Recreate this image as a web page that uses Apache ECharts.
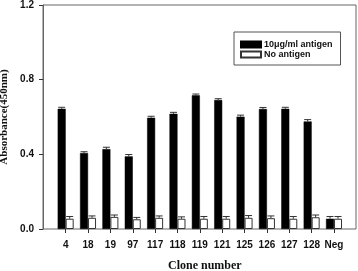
<!DOCTYPE html>
<html>
<head>
<meta charset="utf-8">
<script src="https://cdn.jsdelivr.net/npm/echarts@6/dist/echarts.min.js"></script>
<style>
  html, body { margin: 0; padding: 0; background: #fff; }
  #chart { width: 358px; height: 271px; }
</style>
</head>
<body>
<div id="chart"></div>
<script>
// clone labels on the x axis
var clones = ['4', '18', '19', '97', '117', '118', '119', '121', '125', '126', '127', '128', 'Neg'];
// absorbance with 10 ug/ml antigen
var withAntigen = [0.644, 0.407, 0.428, 0.389, 0.596, 0.617, 0.716, 0.691, 0.602, 0.643, 0.644, 0.576, 0.055];
var withAntigenErr = [0.008, 0.007, 0.01, 0.01, 0.008, 0.008, 0.007, 0.007, 0.008, 0.008, 0.008, 0.01, 0.012];
// absorbance without antigen
var noAntigen = [0.055, 0.06, 0.065, 0.052, 0.06, 0.055, 0.055, 0.055, 0.06, 0.058, 0.055, 0.063, 0.055];
var noAntigenErr = [0.012, 0.01, 0.01, 0.01, 0.01, 0.01, 0.012, 0.012, 0.012, 0.012, 0.012, 0.012, 0.012];

var myChart = echarts.init(document.getElementById('chart'));

function errSeries(vals, errs, shift) {
    var data = vals.map(function (v, i) { return [i, v, errs[i]]; });
    return {
        type: 'custom',
        xAxisIndex: 1,
        yAxisIndex: 1,
        silent: true,
        z: 5,
        data: data,
        renderItem: function (params, api) {
            var top = api.coord([api.value(0), api.value(1) + api.value(2)]);
            var base = api.coord([api.value(0), api.value(1)]);
            var x = top[0] + shift;
            return {
                type: 'group',
                children: [{
                    type: 'line',
                    shape: { x1: x, y1: base[1], x2: x, y2: top[1] },
                    style: { stroke: '#333', lineWidth: 1 }
                }, {
                    type: 'line',
                    shape: { x1: x - 3.5, y1: top[1], x2: x + 3.5, y2: top[1] },
                    style: { stroke: '#333', lineWidth: 1 }
                }]
            };
        }
    };
}

var tickFont = { fontFamily: 'Liberation Sans', fontWeight: 'bold', fontSize: 10, color: '#111' };

var option = {
    backgroundColor: '#fff',
    animation: false,
    legend: {
        orient: 'vertical',
        left: 234,
        top: 32,
        width: 91,
        padding: [8, 8, 6, 6],
        itemGap: 1,
        itemWidth: 20,
        itemHeight: 6,
        borderColor: '#555',
        borderWidth: 1,
        backgroundColor: '#fff',
        icon: 'rect',
        textStyle: { fontFamily: 'Liberation Sans', fontWeight: 'bold', fontSize: 9, color: '#111', padding: [0, 0, 0, -2] },
        data: ['10μg/ml antigen', 'No antigen']
    },
    grid: [
        { left: 43, right: 2, top: 5, bottom: 42, show: true, borderColor: '#666', borderWidth: 1, outerBoundsMode: 'none', containLabel: false },
        { left: 54.5, right: 12.8, top: 5, bottom: 42, outerBoundsMode: 'none', containLabel: false }
    ],
    xAxis: [{
        gridIndex: 0,
        type: 'value',
        min: 0,
        max: 1,
        show: false
    }, {
        gridIndex: 1,
        type: 'category',
        data: clones,
        axisLine: { show: false },
        axisTick: { show: true, alignWithLabel: true, interval: 0, length: 4, lineStyle: { color: '#333' } },
        axisLabel: Object.assign({ margin: 11, interval: 0 }, tickFont),
        name: 'Clone number',
        nameLocation: 'middle',
        nameGap: 31,
        nameTextStyle: { fontFamily: 'Liberation Serif', fontWeight: 'bold', fontSize: 12, color: '#111', padding: [0, 0, 0, 10] }
    }],
    yAxis: [{
        gridIndex: 0,
        type: 'value',
        min: 0,
        max: 1.2,
        interval: 0.4,
        axisLine: { show: true, lineStyle: { color: '#666' } },
        axisTick: { show: true, length: 4, lineStyle: { color: '#333' } },
        splitLine: { show: false },
        axisLabel: Object.assign({
            margin: 9,
            formatter: function (v) { return v.toFixed(1); }
        }, tickFont),
        name: 'Absorbance(450nm)',
        nameLocation: 'middle',
        nameGap: 30,
        nameTextStyle: { fontFamily: 'Liberation Serif', fontWeight: 'bold', fontSize: 11, color: '#111' }
    }, {
        gridIndex: 1,
        type: 'value',
        min: 0,
        max: 1.2,
        show: false
    }],
    series: [{
        name: '10μg/ml antigen',
        type: 'bar',
        xAxisIndex: 1,
        yAxisIndex: 1,
        barWidth: 8,
        barGap: '0%',
        itemStyle: { color: '#000', borderColor: '#000', borderWidth: 0.5 },
        data: withAntigen
    }, {
        name: 'No antigen',
        type: 'bar',
        xAxisIndex: 1,
        yAxisIndex: 1,
        barWidth: 8,
        barGap: '0%',
        itemStyle: { color: '#fff', borderColor: '#333', borderWidth: 1 },
        data: noAntigen
    },
    errSeries(withAntigen, withAntigenErr, -4),
    errSeries(noAntigen, noAntigenErr, 4)]
};

myChart.setOption(option);
</script>
</body>
</html>
